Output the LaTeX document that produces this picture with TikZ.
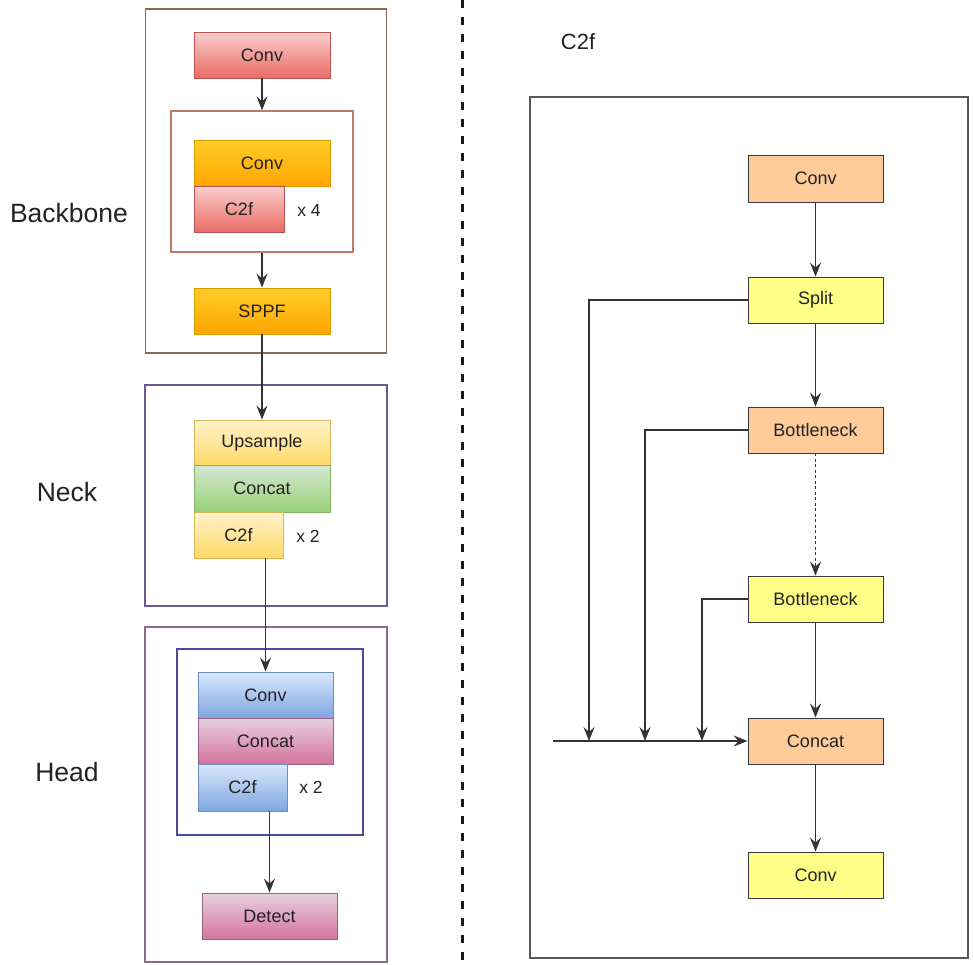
\documentclass[tikz,border=0pt]{standalone}
\usepackage{fontspec}
\setmainfont{Liberation Sans}
\usetikzlibrary{arrows.meta}

% draw.io style palette
\definecolor{redTop}{HTML}{F8CECC}\definecolor{redBot}{HTML}{EA6B66}\definecolor{redLine}{HTML}{B85450}
\definecolor{orTop}{HTML}{FFCD28}\definecolor{orBot}{HTML}{FFA500}\definecolor{orLine}{HTML}{D79B00}
\definecolor{yeTop}{HTML}{FFF2CC}\definecolor{yeBot}{HTML}{FFD966}\definecolor{yeLine}{HTML}{D6B656}
\definecolor{grTop}{HTML}{D5E8D4}\definecolor{grBot}{HTML}{97D077}\definecolor{grLine}{HTML}{82B366}
\definecolor{blTop}{HTML}{DAE8FC}\definecolor{blBot}{HTML}{7EA6E0}\definecolor{blLine}{HTML}{6C8EBF}
\definecolor{pkTop}{HTML}{E6D0DE}\definecolor{pkBot}{HTML}{D5739D}\definecolor{pkLine}{HTML}{996185}
\definecolor{peach}{HTML}{FFCC99}\definecolor{lemon}{HTML}{FFFF88}\definecolor{boxLine}{HTML}{36393D}
\definecolor{bbOuter}{HTML}{8A6A5A}\definecolor{bbInner}{HTML}{C07A6A}
\definecolor{neckLine}{HTML}{6A5A8E}\definecolor{headOuter}{HTML}{8E6A8A}\definecolor{headInner}{HTML}{4A4A9E}
\definecolor{c2fLine}{HTML}{55565E}\definecolor{txt}{HTML}{222222}

\tikzset{
  blk/.style={rectangle, inner sep=0pt, text=txt, font=\fontsize{18}{20}\selectfont, line width=0.9pt},
  gradred/.style={blk, draw=redLine, top color=redTop, bottom color=redBot},
  gradorange/.style={blk, draw=orLine, top color=orTop, bottom color=orBot},
  gradyellow/.style={blk, draw=yeLine, top color=yeTop, bottom color=yeBot},
  gradgreen/.style={blk, draw=grLine, top color=grTop, bottom color=grBot},
  gradblue/.style={blk, draw=blLine, top color=blTop, bottom color=blBot},
  gradpink/.style={blk, draw=pkLine, top color=pkTop, bottom color=pkBot},
  peachbox/.style={blk, draw=boxLine, fill=peach},
  lemonbox/.style={blk, draw=boxLine, fill=lemon},
  frame/.style={rectangle, inner sep=0pt, line width=1.3pt},
  stage/.style={text=txt, font=\fontsize{26.5}{29}\selectfont},
  times/.style={text=txt, font=\fontsize{17.5}{19}\selectfont},
  link/.style={draw=black!80, line width=1.3pt, -{Stealth[length=14pt,width=11pt,inset=5pt]}}
}

\begin{document}
\begin{tikzpicture}[x=1pt, y=-1pt]
\useasboundingbox (0,0) rectangle (973,964);

% ---------------- stage frames ----------------
\node[frame, draw=bbOuter, minimum width=241, minimum height=344] (bbframe) at (266,181) {};
\node[frame, draw=bbInner, minimum width=182, minimum height=141] (bbin) at (262,181.5) {};
\node[frame, draw=neckLine, minimum width=242, minimum height=221] (neckframe) at (266,495.5) {};
\node[frame, draw=headOuter, minimum width=242, minimum height=335] (headframe) at (266,794.5) {};
\node[frame, draw=headInner, minimum width=186, minimum height=186] (headin) at (270,742) {};

% ---------------- stage labels ----------------
\node[stage] (lblbb) at (69,213) {Backbone};
\node[stage] (lblneck) at (67,492) {Neck};
\node[stage] (lblhead) at (67,772) {Head};

% ---------------- backbone ----------------
\node[gradred, minimum width=136, minimum height=46] (bconv) at (262,55) {Conv};
\node[gradorange, minimum width=136, minimum height=46] (bconv2) at (262,163) {Conv};
\node[gradred, minimum width=90, minimum height=46] (bc2f) at (239,209) {C2f};
\node[times] (bx4) at (309,210) {x 4};
\node[gradorange, minimum width=136, minimum height=46] (sppf) at (262,311) {SPPF};

% ---------------- neck ----------------
\node[gradyellow, minimum width=136, minimum height=45] (ups) at (262,442.5) {Upsample};
\node[gradgreen, minimum width=136, minimum height=47] (ncat) at (262,488.5) {Concat};
\node[gradyellow, minimum width=89, minimum height=46] (nc2f) at (238.5,535) {C2f};
\node[times] (nx2) at (308,536) {x 2};

% ---------------- head ----------------
\node[gradblue, minimum width=135, minimum height=46] (hconv) at (265.5,695) {Conv};
\node[gradpink, minimum width=135, minimum height=46] (hcat) at (265.5,741) {Concat};
\node[gradblue, minimum width=89, minimum height=47] (hc2f) at (242.5,787.5) {C2f};
\node[times] (hx2) at (311,787) {x 2};
\node[gradpink, minimum width=135, minimum height=46] (det) at (269.5,916) {Detect};

% backbone / neck / head flow
\draw[link] (bconv.south) -- (bbin.north);
\draw[link] (bbin.south) -- (sppf.north);
\draw[link] (sppf.south) -- (ups.north);
\draw[link] (hconv.north |- nc2f.south) -- (hconv.north);
\draw[link] (det.north |- hc2f.south) -- (det.north);

% ---------------- divider ----------------
\coordinate (divtop) at (462,0);
\coordinate (divbot) at (462,964);
\draw[line width=3pt, dash pattern=on 8pt off 9pt, black!90] (divtop) -- (divbot);

% ---------------- C2f module ----------------
\node[text=txt, font=\fontsize{22}{25}\selectfont] (c2ftitle) at (578,42) {C2f};
\node[frame, draw=c2fLine, minimum width=438, minimum height=861] (c2fframe) at (749,527.5) {};

\node[peachbox, minimum width=135, minimum height=47] (rconv) at (815.5,178.5) {Conv};
\node[lemonbox, minimum width=135, minimum height=46] (split) at (815.5,300) {Split};
\node[peachbox, minimum width=135, minimum height=46] (bn1) at (815.5,430) {Bottleneck};
\node[lemonbox, minimum width=135, minimum height=46] (bn2) at (815.5,599) {Bottleneck};
\node[peachbox, minimum width=135, minimum height=46] (rcat) at (815.5,741) {Concat};
\node[lemonbox, minimum width=135, minimum height=46] (rconv2) at (815.5,875) {Conv};

\draw[link] (rconv.south) -- (split.north);
\draw[link] (split.south) -- (bn1.north);
\draw[link, dash pattern=on 3pt off 2.5pt] (bn1.south) -- (bn2.north);
\draw[link] (bn2.south) -- (rcat.north);
\draw[link] (rcat.south) -- (rconv2.north);

% skip branches into the concatenation
\coordinate (j1) at (589,741);
\coordinate (j2) at (645,741);
\coordinate (j3) at (702,741);
\coordinate (feed) at (553,741);
\draw[link] (split.west) -| (j1);
\draw[link] (bn1.west) -| (j2);
\draw[link] (bn2.west) -| (j3);
\draw[link] (feed) -- (rcat.west);
\end{tikzpicture}
\end{document}
